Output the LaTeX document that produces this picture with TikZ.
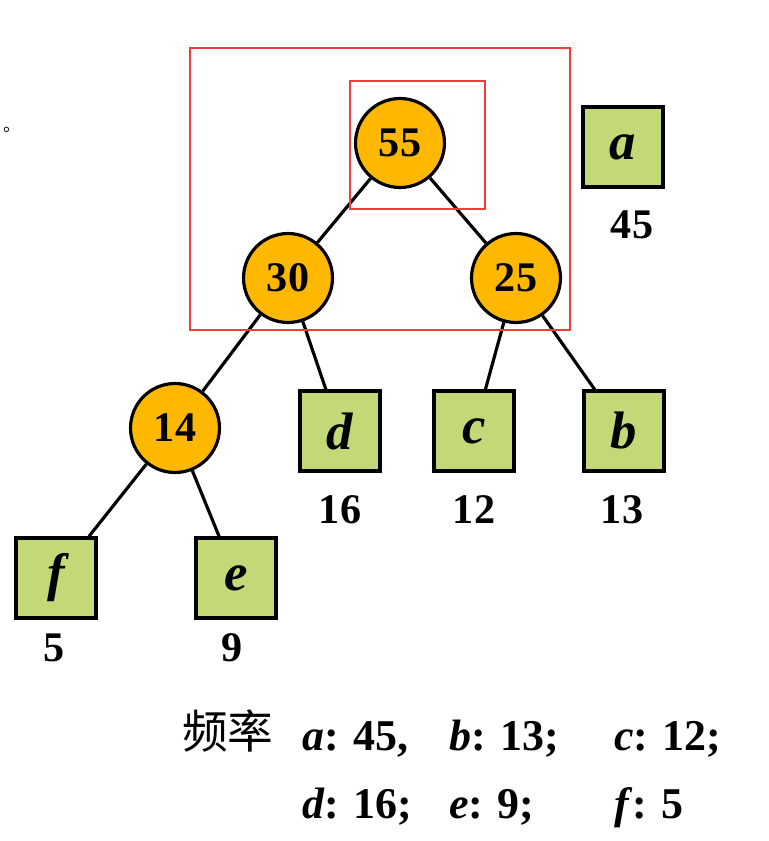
\documentclass[tikz,border=0pt]{standalone}
\usepackage{fontspec}
\setmainfont{Liberation Serif}
\newfontfamily\cjk{Noto Sans CJK SC}
\definecolor{huff}{HTML}{FFB800}
\definecolor{leafgreen}{HTML}{C3D977}
\definecolor{markred}{HTML}{F03C3C}

\begin{document}
\begin{tikzpicture}[x=0.02cm,y=-0.02cm,
  inner/.style={circle, draw, line width=1.8pt, fill=huff, minimum size=1.78cm, inner sep=0pt, font=\fontsize{24}{28}\selectfont\bfseries},
  leaf/.style={rectangle, draw, line width=1.8pt, fill=leafgreen, minimum size=1.6cm, inner sep=0pt, font=\fontsize{30}{34}\selectfont\bfseries\itshape},
  weight/.style={font=\fontsize{24}{28}\selectfont\bfseries},
  freq/.style={font=\fontsize{25}{30}\selectfont\bfseries, anchor=base west},
  link/.style={line width=1.8pt},
  redbox/.style={draw=markred, line width=1.2pt}]
\useasboundingbox (0,0) rectangle (768,841);
\fill[white] (0,0) rectangle (768,841);
% tree
\node[inner] (n55) at (400,143) {55};
\node[inner] (n30) at (288,278) {30};
\node[inner] (n25) at (516,278) {25};
\node[inner] (n14) at (175,428) {14};
\node[leaf] (d) at (340,431) {d};
\node[leaf] (c) at (474,431) {c};
\node[leaf] (b) at (624,431) {b};
\node[leaf] (a) at (623,147) {a};
\node[leaf] (f) at (56,578) {f};
\node[leaf] (e) at (236,578) {e};
\foreach \u/\v in {n55/n30, n55/n25, n30/n14, n30/d, n25/c, n25/b, n14/f, n14/e}
  \draw[link] (\u) -- (\v);
% weights
\node[weight] (wa) at (632,225) {45};
\node[weight] (wd) at (340,510) {16};
\node[weight] (wc) at (474,510) {12};
\node[weight] (wb) at (622,510) {13};
\node[weight] (wf) at (54,648) {5};
\node[weight] (we) at (232,648) {9};
% marks
\draw[redbox] (190,48) rectangle (570,330);
\draw[redbox] (350,81) rectangle (485,209);
\node (dot) at (12,130) {\cjk 。};
% frequencies
\node[font=\fontsize{26}{30}\selectfont\cjk, anchor=base west] (lbl) at (176,748) {频率};
\node[freq] (fa) at (296,750) {\textit{a}: 45,};
\node[freq] (fb) at (443,750) {\textit{b}: 13;};
\node[freq] (fc) at (608,750) {\textit{c}: 12;};
\node[freq] (fd) at (296,818) {\textit{d}: 16;};
\node[freq] (fe) at (443,818) {\textit{e}: 9;};
\node[freq] (ff) at (608,818) {\textit{f}: 5};
\end{tikzpicture}
\end{document}
